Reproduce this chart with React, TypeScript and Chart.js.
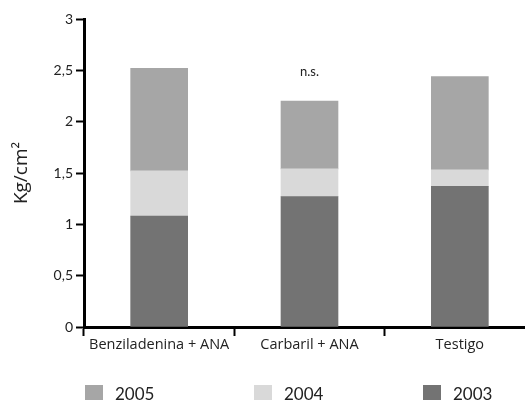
import React, { useEffect, useRef } from "react";
import { Chart, registerables } from "chart.js";

Chart.register(...registerables);

const categories = ["Benziladenina + ANA", "Carbaril + ANA", "Testigo"];
const series2003 = [1.08, 1.27, 1.37];
const series2004 = [0.44, 0.27, 0.16];
const series2005 = [1.0, 0.66, 0.91];
const seriesNames = ["2003", "2004", "2005"];
const seriesColors = ["#737373", "#d9d9d9", "#a6a6a6"];
const yTickValues = [0, 0.5, 1, 1.5, 2, 2.5, 3];
const annotations = ["", "n.s.", ""];
const annotationValue = 2.49;
const yTitle = "Kg/cm²";

const FONT = "Lato, 'Open Sans', sans-serif";
const FONT2 = "'Open Sans', Lato, sans-serif";

const annotationPlugin = {
  id: "nsLabels",
  afterDatasetsDraw(chart: any) {
    const ctx = chart.ctx;
    const meta = chart.getDatasetMeta(0);
    ctx.save();
    ctx.font = `13px ${FONT}`;
    ctx.fillStyle = "#222";
    ctx.textAlign = "center";
    ctx.textBaseline = "middle";
    annotations.forEach((t, i) => {
      if (!t) return;
      const x = meta.data[i].x;
      const y = chart.scales.y.getPixelForValue(annotationValue);
      ctx.fillText(t, x, y);
    });
    ctx.restore();
  },
};

export default function App() {
  const ref = useRef<HTMLCanvasElement | null>(null);

  useEffect(() => {
    if (!ref.current) return;
    const data = [series2003, series2004, series2005];
    const chart = new Chart(ref.current, {
      type: "bar",
      data: {
        labels: categories,
        datasets: data.map((d, i) => ({
          label: seriesNames[i],
          data: d,
          backgroundColor: seriesColors[i],
          borderWidth: 0,
          barThickness: 57,
        })),
      },
      options: {
        animation: false,
        responsive: false,
        devicePixelRatio: 1,
        layout: { padding: { left: 0, top: 19, right: 10, bottom: 0 } },
        plugins: {
          legend: { display: false },
          tooltip: { enabled: false },
        },
        scales: {
          x: {
            stacked: true,
            afterFit: (s: any) => {
              s.height = 73;
            },
            border: { display: true, color: "#000", width: 3 },
            grid: {
              display: true,
              drawOnChartArea: false,
              drawTicks: true,
              tickLength: 9,
              tickWidth: 2,
              tickColor: "#000",
              offset: true,
            },
            ticks: {
              color: "#222",
              font: { family: FONT2, size: 14.5 },
              padding: 0,
              maxRotation: 0,
              autoSkip: false,
            },
          },
          y: {
            stacked: true,
            min: 0,
            max: 3,
            afterFit: (s: any) => {
              s.width = 84;
            },
            afterBuildTicks: (s: any) => {
              s.ticks = yTickValues.map((v) => ({ value: v }));
            },
            border: { display: true, color: "#000", width: 3 },
            grid: {
              display: true,
              drawOnChartArea: false,
              drawTicks: true,
              tickLength: 8,
              tickWidth: 2,
              tickColor: "#000",
            },
            ticks: {
              color: "#222",
              font: { family: FONT, size: 14 },
              padding: 3,
              callback: (v: any) => String(v).replace(".", ","),
            },
            title: {
              display: true,
              text: yTitle,
              color: "#222",
              font: { family: FONT2, size: 19 },
              padding: { top: 10, bottom: 0 },
            },
          },
        },
      },
      plugins: [annotationPlugin],
    });
    return () => chart.destroy();
  }, []);

  const legendOrder = [2, 1, 0];
  const legendLefts = [85, 254, 423];

  return (
    <div
      style={{
        position: "fixed",
        left: 0,
        top: 0,
        width: 525,
        height: 400,
        overflow: "hidden",
        background: "#fff",
      }}
    >
      <canvas
        ref={ref}
        width={545}
        height={400}
        style={{ position: "absolute", left: 0, top: 0, width: 545, height: 400 }}
      />
      {legendOrder.map((si, k) => (
        <div
          key={si}
          style={{
            position: "absolute",
            left: legendLefts[k],
            top: 385,
            height: 20,
          }}
        >
          <div style={{ width: 18, height: 18, background: seriesColors[si] }} />
          <div
            style={{
              position: "absolute",
              left: 30,
              top: -1,
              fontFamily: FONT,
              fontSize: 17,
              lineHeight: "19px",
              color: "#222",
              whiteSpace: "nowrap",
            }}
          >
            {seriesNames[si]}
          </div>
        </div>
      ))}
    </div>
  );
}
